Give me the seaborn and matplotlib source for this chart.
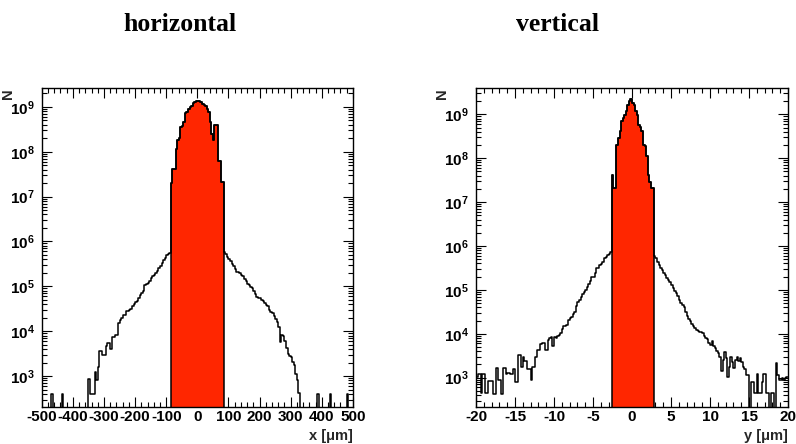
import numpy as np
import pandas as pd
import matplotlib
matplotlib.use("Agg")
import matplotlib.pyplot as plt
from matplotlib.ticker import MultipleLocator, LogLocator, NullFormatter, FuncFormatter, FixedLocator
import seaborn as sns

# ---------------- data (log10 of counts per bin, None = empty bin) ----------------
# horizontal: 200 bins of 5 um from -500 to 500
h_edges_range = (-500, 500)
h_nbins = 200
h_core_range = (-85, 85)
h_core_nbins = 34
h_tail_left = [2.93, 2.61, 2.61, 2.61, 3.10, 2.92, 3.21, 3.56, 3.56, 3.47,
               3.47, 3.67, 3.74, 3.74, 3.61, 3.86, 3.86, 3.91, 3.91, 4.19,
               4.26, 4.30, 4.35, 4.37, 4.46, 4.46, 4.47, 4.50, 4.56, 4.60,
               4.65, 4.68, 4.75, 4.80, 4.85, 4.90, 5.02, 5.06, 5.08, 5.12,
               5.18, 5.22, 5.25, 5.29, 5.35, 5.40, 5.46, 5.51, 5.58, 5.62,
               5.70, 5.73, 5.75]
h_core = [7.31, 7.62, 7.62, 8.06, 8.26, 8.30, 8.56, 8.58, 8.67, 8.86,
          8.88, 8.95, 9.00, 9.01, 9.08, 9.10, 9.12, 9.13, 9.12, 9.10,
          9.07, 9.05, 9.02, 8.95, 8.88, 8.67, 8.40, 8.27, 8.60, 8.60,
          7.80, 7.80, 7.32, 7.32]
h_tail_right = [5.77, 5.72, 5.66, 5.60, 5.56, 5.50, 5.46, 5.38, 5.33, 5.31,
                5.30, 5.26, 5.23, 5.16, 5.12, 5.06, 5.03, 4.98, 4.96, 4.90,
                4.82, 4.76, 4.75, 4.73, 4.70, 4.68, 4.63, 4.58, 4.55, 4.48,
                4.43, 4.40, 4.33, 4.28, 4.21, 4.10, 3.75, 3.91, 3.90, 3.78,
                3.62, 3.50, 3.45, 3.42, 3.32, 3.25, 3.05, 2.91, 2.62]
h_log10N = ([None] * 6 + [2.61] + [None] * 6 + [2.61] + [None] * 16
            + h_tail_left + h_core + h_tail_right
            + [None] * 11 + [2.60] + [None] * 7 + [2.60] + [None] * 10 + [2.60] + [None] * 3)

# vertical: 200 bins of 0.2 um from -20 to 20
v_edges_range = (-20, 20)
v_nbins = 200
v_core_range = (-2.6, 2.8)
v_core_nbins = 27
v_tail_left = [3.02, 3.08, 3.08, 2.64, 3.08, 3.08, 2.64, 2.64, 2.93, 2.93,
               2.93, 2.63, 2.63, 3.21, 2.95, 2.95, 2.63, 3.21, 3.21, 3.08,
               3.10, 3.10, 3.08, 3.08, 3.19, 2.91, 2.91, 3.52, 3.52, 3.25,
               3.48, 3.37, 3.37, 3.19, 3.19, 2.95, 3.25, 3.25, 3.48, 3.63,
               3.63, 3.77, 3.78, 3.80, 3.62, 3.62, 3.86, 3.90, 3.92, 3.71,
               3.93, 3.90, 3.95, 3.97, 4.01, 4.10, 4.18, 4.18, 4.20, 4.31,
               4.37, 4.39, 4.45, 4.50, 4.63, 4.73, 4.78, 4.83, 4.91, 4.95,
               5.00, 5.07, 5.14, 5.21, 5.30, 5.30, 5.38, 5.49, 5.49, 5.57,
               5.60, 5.64, 5.72, 5.74, 5.80, 5.82, 5.86]
v_core = [7.61, 7.32, 7.32, 8.31, 8.45, 8.61, 8.84, 8.92, 8.99, 9.08,
          9.22, 9.31, 9.36, 9.26, 9.22, 9.08, 8.99, 8.76, 8.70, 8.61,
          8.31, 8.28, 8.04, 7.62, 7.45, 7.32, 7.32]
v_tail_right = [5.78, 5.72, 5.64, 5.57, 5.50, 5.45, 5.38, 5.33, 5.26, 5.22,
                5.19, 5.10, 5.04, 4.98, 4.92, 4.85, 4.77, 4.70, 4.66, 4.60,
                4.50, 4.40, 4.33, 4.28, 4.22, 4.17, 4.13, 4.09, 4.07, 4.03,
                4.05, 4.01, 3.95, 3.91, 3.87, 3.80, 3.75, 3.84, 3.72, 3.68,
                3.60, 3.55, 3.48, 3.14, 3.40, 3.59, 3.45, 3.02, 3.25, 3.48,
                3.36, 3.21, 3.40, 3.48, 3.37, 3.45, 3.35, 3.25, 3.20, 3.06,
                3.06, None, 2.91, 2.91, 2.64, 2.64, 3.08, 2.64, 2.64, 2.91,
                3.08, 3.08, 2.64, 2.64, None, 2.64, 2.64, None, 3.33, 3.06,
                2.95, 2.95, 3.00, 2.95, 3.00, 3.02]
v_log10N = v_tail_left + v_core + v_tail_right

titles = ["horizontal", "vertical"]
xlabels = ["x [\u03bcm]", "y [\u03bcm]"]
ylabel = "N"
y_decades = [1e3, 1e4, 1e5, 1e6, 1e7, 1e8, 1e9]
h_ylim = (204, 2.63e9)
v_ylim = (214, 3.98e9)

# ---------------- style ----------------
sns.set_theme(style="ticks")
plt.rcParams["font.family"] = ["Liberation Sans", "DejaVu Sans"]
plt.rcParams["mathtext.fontset"] = "custom"
plt.rcParams["mathtext.bf"] = "Liberation Sans:bold"
plt.rcParams["mathtext.rm"] = "Liberation Sans"
plt.rcParams["axes.linewidth"] = 1.0

RED = "#ff2600"


def make_frame(logs, rng, nbins):
    edges = np.linspace(rng[0], rng[1], nbins + 1)
    centers = 0.5 * (edges[:-1] + edges[1:])
    counts = [0.0 if v is None else 10.0 ** v for v in logs]
    return pd.DataFrame({"pos": centers, "N": counts})


def draw(ax, logs, rng, nbins, core, core_nbins, ylim, major, minor, xlabel):
    df = make_frame(logs, rng, nbins)
    core_df = df[(df["pos"] > core[0]) & (df["pos"] < core[1])]
    ax.set_yscale("log")
    sns.histplot(data=core_df, x="pos", weights="N", bins=core_nbins, binrange=core,
                 element="step", fill=True, color=RED, alpha=1.0,
                 edgecolor="black", linewidth=1.1, ax=ax)
    sns.histplot(data=df, x="pos", weights="N", bins=nbins, binrange=rng,
                 element="step", fill=False, color="black", linewidth=1.1, ax=ax)
    ax.set_xlim(rng)
    ax.set_ylim(ylim)
    ax.xaxis.set_major_locator(MultipleLocator(major))
    ax.xaxis.set_minor_locator(MultipleLocator(minor))
    ax.yaxis.set_major_locator(FixedLocator(y_decades))
    ax.yaxis.set_minor_locator(LogLocator(base=10, subs=np.arange(2, 10)))
    ax.yaxis.set_minor_formatter(NullFormatter())
    ax.yaxis.set_major_formatter(FuncFormatter(
        lambda v, p: r"$\mathbf{10^{%d}}$" % int(round(np.log10(v)))))
    ax.xaxis.set_major_formatter(FuncFormatter(lambda v, p: "%g" % v))
    ax.tick_params(axis="both", which="both", direction="in", top=True, right=True,
                   colors="black", width=0.8)
    ax.tick_params(axis="x", which="major", length=7, pad=2, labelsize=11)
    ax.tick_params(axis="x", which="minor", length=3.5)
    ax.tick_params(axis="y", which="major", length=7, pad=5, labelsize=11)
    ax.tick_params(axis="y", which="minor", length=3.5)
    for lab in ax.get_xticklabels() + ax.get_yticklabels():
        lab.set_fontweight("bold")
    for s in ax.spines.values():
        s.set_visible(True)
        s.set_color("black")
    ax.set_xlabel(xlabel, loc="right", fontsize=10.5, fontweight="bold")
    ax.set_ylabel(ylabel, loc="top", fontsize=10.5, fontweight="bold")
    ax.xaxis.set_label_coords(1.0, -0.068)
    ax.yaxis.set_label_coords(-0.085, 1.0)


fig = plt.figure(figsize=(7.96, 4.44), dpi=100)
fig.patch.set_facecolor("white")
ax1 = fig.add_axes([0.0524, 0.0833, 0.391, 0.7185])
ax2 = fig.add_axes([0.598, 0.0833, 0.392, 0.7185])

draw(ax1, h_log10N, h_edges_range, h_nbins, h_core_range, h_core_nbins, h_ylim, 100, 20, xlabels[0])
draw(ax2, v_log10N, v_edges_range, v_nbins, v_core_range, v_core_nbins, v_ylim, 5, 1, xlabels[1])

fig.text(0.226, 0.93, titles[0], ha="center", va="baseline", fontsize=18.5,
         fontweight="bold", color="black", family=["Liberation Serif", "DejaVu Serif"])
fig.text(0.701, 0.93, titles[1], ha="center", va="baseline", fontsize=18.5,
         fontweight="bold", color="black", family=["Liberation Serif", "DejaVu Serif"])

fig.savefig("out.png", dpi=100, facecolor="white")
